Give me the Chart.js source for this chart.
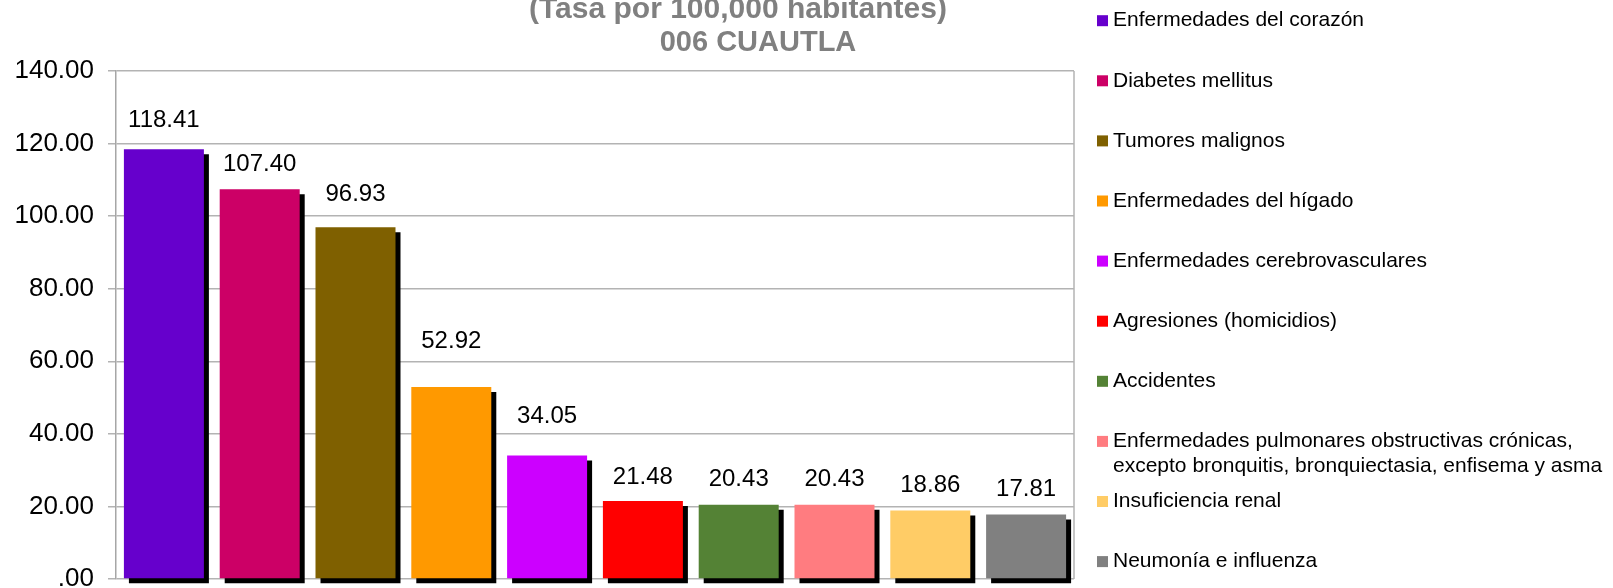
<!DOCTYPE html>
<html>
<head>
<meta charset="utf-8">
<script src="https://cdn.jsdelivr.net/npm/chart.js@4.4.0/dist/chart.umd.min.js"></script>
<style>
    html, body { margin: 0; padding: 0; background: #fff; }
    #wrap { width: 1613px; height: 588px; }
</style>
</head>
<body>
<div id="wrap"><canvas id="chart-area" width="1613" height="588"></canvas></div>
<script>
/* data */
var categories = [
    "Enfermedades del corazón",
    "Diabetes mellitus",
    "Tumores malignos",
    "Enfermedades del hígado",
    "Enfermedades cerebrovasculares",
    "Agresiones (homicidios)",
    "Accidentes",
    "Enfermedades pulmonares obstructivas crónicas,\nexcepto bronquitis, bronquiectasia, enfisema y asma",
    "Insuficiencia renal",
    "Neumonía e influenza"
];
var values = [118.41, 107.40, 96.93, 52.92, 34.05, 21.48, 20.43, 20.43, 18.86, 17.81];
var barColors = [
    "#6600CC", "#CC0066", "#7F6000", "#FF9900", "#CC00FF",
    "#FF0000", "#548235", "#FF7C80", "#FFCC66", "#808080"
];
var titleLines = ["(Tasa por 100,000 habitantes)", "006 CUAUTLA"];
var yMax = 140;
var yStep = 20;

// how far (px) each value label sits above its bar, as placed in the original
var labelLift = [29, 25, 33, 46, 39, 24, 25, 25, 25, 25];

var FONT = "'Liberation Sans', Arial, sans-serif";
Chart.defaults.font.family = FONT;

/* black drop shadow behind each bar + value labels */
var barShadow = {
    id: 'barShadow',
    beforeDatasetsDraw: function (chart) {
        var ctx = chart.ctx, a = chart.chartArea;
        // right border of the plot area
        ctx.save();
        ctx.strokeStyle = '#b3b3b3';
        ctx.lineWidth = 1.5;
        ctx.beginPath();
        ctx.moveTo(a.right, a.top);
        ctx.lineTo(a.right, a.bottom);
        ctx.stroke();
        ctx.restore();

        ctx.save();
        ctx.shadowColor = '#000';
        ctx.shadowOffsetX = 5;
        ctx.shadowOffsetY = 5;
        ctx.shadowBlur = 0;
    },
    afterDatasetsDraw: function (chart) {
        var ctx = chart.ctx;
        ctx.restore();

        var meta = chart.getDatasetMeta(0);
        ctx.save();
        ctx.font = '24px ' + FONT;
        ctx.fillStyle = '#000';
        ctx.textAlign = 'center';
        ctx.textBaseline = 'middle';
        meta.data.forEach(function (bar, i) {
            ctx.fillText(values[i].toFixed(2), bar.x, bar.y - labelLift[i]);
        });
        ctx.restore();
    }
};

/* title and legend on the right */
var sideText = {
    id: 'sideText',
    afterDraw: function (chart) {
        var ctx = chart.ctx;
        ctx.save();
        ctx.fillStyle = '#808080';
        ctx.textAlign = 'center';
        ctx.textBaseline = 'alphabetic';
        ctx.font = 'bold 30px ' + FONT;
        ctx.fillText(titleLines[0], 738, 18);
        ctx.font = 'bold 29px ' + FONT;
        ctx.fillText(titleLines[1], 758, 51);

        ctx.font = '21px ' + FONT;
        ctx.textAlign = 'left';
        ctx.textBaseline = 'middle';
        categories.forEach(function (name, i) {
            var y = 20.7 + i * 60.1;
            ctx.fillStyle = barColors[i];
            ctx.fillRect(1097, y - 5.5, 11, 11);
            ctx.fillStyle = '#000';
            name.split('\n').forEach(function (line, j) {
                ctx.fillText(line, 1113, y + j * 24.5);
            });
        });
        ctx.restore();
    }
};

var config = {
    type: 'bar',
    data: {
        labels: categories,
        datasets: [{
            data: values,
            backgroundColor: barColors,
            borderWidth: 0,
            categoryPercentage: 1,
            barPercentage: 0.835,
            clip: false
        }]
    },
    options: {
        responsive: false,
        animation: false,
        layout: {
            padding: { top: 71, right: 539, bottom: 9, left: 0 }
        },
        plugins: {
            legend: { display: false },
            tooltip: { enabled: false },
            title: { display: false }
        },
        scales: {
            x: { display: false },
            y: {
                min: 0,
                max: yMax,
                ticks: {
                    stepSize: yStep,
                    color: '#000',
                    font: { size: 26 },
                    padding: 14,
                    callback: function (v) { return v === 0 ? '.00' : v.toFixed(2); }
                },
                grid: { color: '#b3b3b3', lineWidth: 1.5, tickLength: 8 },
                border: { color: '#a6a6a6', width: 1.5 },
                afterFit: function (s) {
                    s.width = 116;
                    s.paddingTop = 0;
                    s.paddingBottom = 0;
                }
            }
        }
    },
    plugins: [barShadow, sideText]
};

var ctx = document.getElementById("chart-area").getContext("2d");
var myBar = new Chart(ctx, config);
</script>
</body>
</html>
